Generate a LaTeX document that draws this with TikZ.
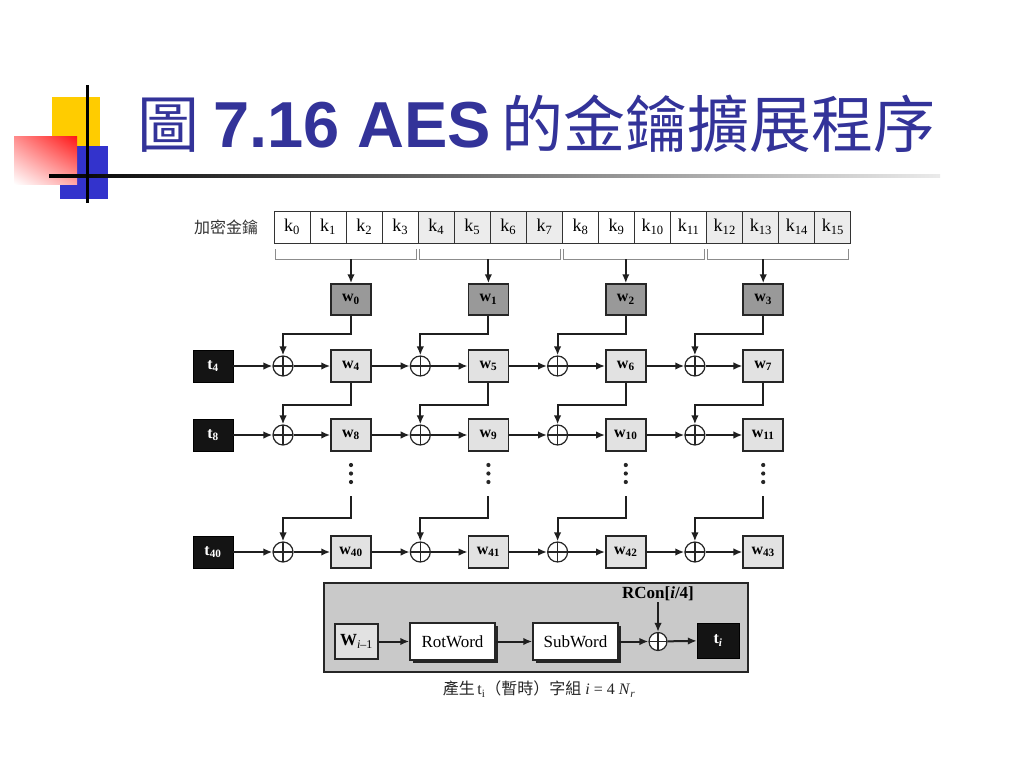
\documentclass[tikz,border=0pt]{standalone}
\usepackage{fontspec}
\setmainfont{Liberation Serif}
\newfontfamily\cjk{Noto Sans CJK TC}
\newfontfamily\arialf{Liberation Sans}
\usetikzlibrary{arrows.meta,shadows,shadings}
\definecolor{titleblue}{RGB}{51,51,153}
\definecolor{keygray}{RGB}{236,236,236}
\definecolor{wdark}{RGB}{153,153,153}
\definecolor{wlight}{RGB}{226,226,226}
\definecolor{boxgray}{RGB}{201,201,201}
\definecolor{decoyellow}{RGB}{255,204,0}
\definecolor{decoblue}{RGB}{51,51,204}
\definecolor{redA}{RGB}{255,140,140}
\definecolor{redB}{RGB}{255,20,20}
\definecolor{redC}{RGB}{255,165,165}
\newcommand\sbs[1]{\textsubscript{#1}}
\begin{document}
\begin{tikzpicture}[x=1pt,y=-1pt,
  conn/.style={line width=2pt, draw=black!88},
  arr/.style={conn, -{Latex[length=9pt,width=7.5pt]}},
  keycell/.style={draw=black!80, line width=1pt, minimum width=36.06pt, minimum height=32pt, inner sep=0pt, font=\fontsize{18}{18}\selectfont},
  bracket/.style={draw=black!45, line width=0.9pt},
  wbox/.style={draw=black!85, line width=1.5pt, minimum width=40pt, minimum height=32pt, inner sep=0pt, font=\fontsize{16}{16}\selectfont\bfseries},
  tbox/.style={draw=black, fill=black!92, text=white, minimum width=40pt, minimum height=32pt, inner sep=0pt, font=\fontsize{16}{16}\selectfont\bfseries},
  xorc/.style={circle, draw=black!85, line width=1.2pt, fill=white, minimum size=20pt, inner sep=0pt,
    path picture={\draw[black!85, line width=1.2pt] (path picture bounding box.north) -- (path picture bounding box.south) (path picture bounding box.west) -- (path picture bounding box.east);}},
  genbox/.style={draw=black!85, line width=1.5pt, minimum height=37pt, inner sep=0pt, font=\fontsize{17}{17}\selectfont},
  shadowed/.style={drop shadow={shadow xshift=3pt, shadow yshift=-3pt, fill=black!85, opacity=1}}
]
\useasboundingbox (0,0) rectangle (1024,768);
\fill[white] (0,0) rectangle (1024,768);
% decoration
\fill[decoyellow] (52,97) rectangle (100,147);
\fill[decoblue] (60,146) rectangle (108,199);
\shade[upper left=redA, upper right=redB, lower left=white, lower right=redC] (14,136) rectangle (77,184);
\shade[left color=black, right color=black!8] (49,174.5) rectangle (940,177.5);
\fill[black] (85.5,85) rectangle (88.5,203);
% title
\node[anchor=base west, inner sep=0pt, text=titleblue, font=\fontsize{62}{62}\selectfont] (title) at (137,147)
  {{\cjk 圖}\hspace{14pt}{\arialf\bfseries\fontsize{65}{65}\selectfont 7.16 AES}\hspace{10pt}{\cjk\fontsize{62}{62}\selectfont 的金鑰擴展程序}};
% key row
\node[font=\cjk\fontsize{16}{16}\selectfont, text=black!80] (klabel) at (226,227) {加密金鑰};
\foreach \i in {0,...,15}{
  \pgfmathtruncatemacro\g{mod(int(\i/4),2)}
  \ifnum\g=0 \def\kf{white}\else\def\kf{keygray}\fi
  \node[keycell, fill=\kf] (k\i) at ({274+36.06*\i+18.03},227) {k\sbs{\i}};
}
% brackets, top words
\foreach \j in {0,...,3}{
  \draw[bracket] ({275+144.24*\j},249) -- ({275+144.24*\j},259) -- ({416+144.24*\j},259) -- ({416+144.24*\j},249);
  \coordinate (bk\j) at ({351+137.4*\j},259);
  \node[wbox, fill=wdark, minimum height=31pt] (w\j) at ({351+137.4*\j},299.5) {w\sbs{\j}};
  \draw[arr] (bk\j) -- (w\j);
}
% rows
\foreach \r/\y/\t in {1/366/4, 2/435/8, 3/552/40}{
  \node[tbox] (t\r) at (213,\y) {t\sbs{\t}};
  \foreach \j in {0,...,3}{
    \pgfmathtruncatemacro\n{\t+\j}
    \node[xorc] (c-\r-\j) at ({283+137.3*\j},\y) {};
    \node[wbox, fill=wlight] (w-\r-\j) at ({351+137.4*\j},\y) {w\sbs{\n}};
    \draw[arr] (c-\r-\j) -- (w-\r-\j);
  }
  \draw[arr] (t\r) -- (c-\r-0);
  \draw[arr] (w-\r-0) -- (c-\r-1);
  \draw[arr] (w-\r-1) -- (c-\r-2);
  \draw[arr] (w-\r-2) -- (c-\r-3);
}
% feeds
\foreach \j in {0,...,3}{
  \draw[arr] (w\j.south) -- ++(0,18.5) -| (c-1-\j.north);
  \draw[arr] (w-1-\j.south) -- ++(0,22.5) -| (c-2-\j.north);
  \fill[black!85] ({351+137.4*\j},465) circle[radius=2.1];
  \fill[black!85] ({351+137.4*\j},473.5) circle[radius=2.1];
  \fill[black!85] ({351+137.4*\j},482) circle[radius=2.1];
  \coordinate (d\j) at ({351+137.4*\j},496);
  \draw[arr] (d\j) -- ++(0,22) -| (c-3-\j.north);
}
% generator box
\node[draw=black!85, fill=boxgray, line width=2.5pt, minimum width=424pt, minimum height=89pt, inner sep=0pt] (gen) at (536,627.5) {};
\node[genbox, fill=wlight, minimum width=43pt, minimum height=35pt] (wim) at (356.5,641.5) {\textbf{W}\sbs{\textit{i}–1}};
\node[genbox, fill=white, minimum width=85pt, shadowed] (rot) at (452.5,641.5) {RotWord};
\node[genbox, fill=white, minimum width=85pt, shadowed] (sub) at (575.5,641.5) {SubWord};
\node[xorc, minimum size=18pt] (cg) at (658,641.5) {};
\node[tbox, minimum width=42pt, minimum height=35pt] (ti) at (718,640.5) {t\sbs{\textit{i}}};
\node[font=\fontsize{17}{17}\selectfont\bfseries, inner sep=1pt] (rcon) at (658,594) {RCon[\textit{i}/4]};
\draw[arr] (wim) -- (rot);
\draw[arr] (rot) -- (sub);
\draw[arr] (sub) -- (cg);
\draw[arr] (cg) -- (ti);
\draw[arr] (rcon.south) -- (cg.north);
\node[font=\fontsize{16}{16}\selectfont, text=black!85] (cap) at (539,689)
  {{\cjk 產生}\,t\sbs{i}{\cjk （暫時）字組} \textit{i} = 4 \textit{N}\sbs{\textit{r}}};
\end{tikzpicture}
\end{document}
